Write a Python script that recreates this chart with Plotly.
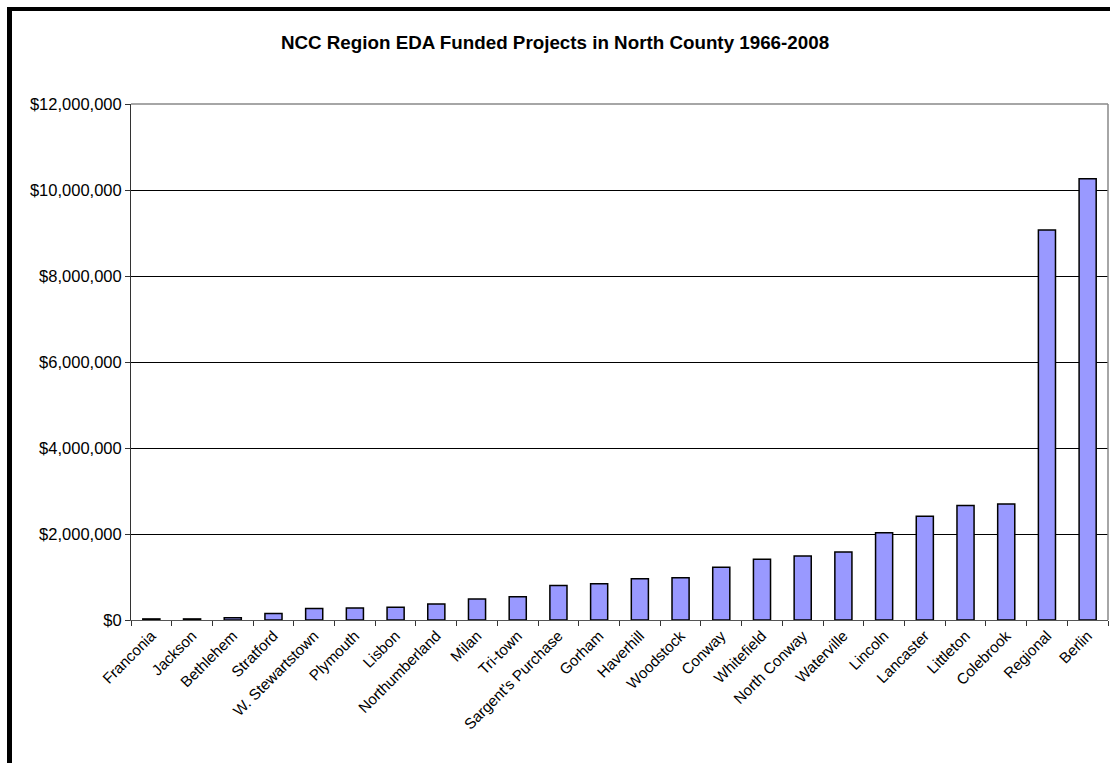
import plotly.graph_objects as go

categories = ["Franconia", "Jackson", "Bethlehem", "Stratford", "W. Stewartstown",
              "Plymouth", "Lisbon", "Northumberland", "Milan", "Tri-town",
              "Sargent's Purchase", "Gorham", "Haverhill", "Woodstock", "Conway",
              "Whitefield", "North Conway", "Waterville", "Lincoln", "Lancaster",
              "Littleton", "Colebrook", "Regional", "Berlin"]
funding = [25000, 25000, 55000, 150000, 270000,
           280000, 295000, 372000, 490000, 540000,
           800000, 845000, 960000, 985000, 1225000,
           1410000, 1490000, 1580000, 2030000, 2410000,
           2660000, 2700000, 9070000, 10260000]
y_ticks = [0, 2000000, 4000000, 6000000, 8000000, 10000000, 12000000]
y_tick_labels = ["$0", "$2,000,000", "$4,000,000", "$6,000,000", "$8,000,000",
                 "$10,000,000", "$12,000,000"]
title = "NCC Region EDA Funded Projects in North County 1966-2008"

W, H = 1110, 763
L, R, T, B = 131, 1108, 104, 620
FONT = "Liberation Sans, Arial, sans-serif"

fig = go.Figure(go.Bar(
    x=categories, y=funding,
    marker=dict(color="#9999FF", line=dict(color="#000000", width=1.5)),
))

def px_x(p):
    return (p - L) / (R - L)

def px_y(p):
    return (B - p) / (B - T)

fig.update_layout(
    width=W, height=H,
    margin=dict(l=L, r=W - R, t=T, b=H - B, pad=0),
    paper_bgcolor="white", plot_bgcolor="white",
    font=dict(family=FONT, size=15.5, color="black"),
    bargap=0.58,
    showlegend=False,
    title=dict(text="<b>" + title + "</b>", x=555 / W, xanchor="center",
               y=1 - 42 / H, yanchor="middle",
               font=dict(size=18.8, family=FONT)),
    xaxis=dict(
        tickangle=-45, tickson="boundaries", ticks="outside", ticklen=5,
        tickcolor="#333333", showline=True, linecolor="#555555", linewidth=1,
        showgrid=False, tickfont=dict(size=15.2), range=[-0.5, len(categories) - 0.5],
    ),
    yaxis=dict(
        range=[0, 12000000], tickvals=y_ticks, ticktext=y_tick_labels,
        ticks="outside", ticklen=5, tickcolor="#333333",
        showline=True, linecolor="#333333", linewidth=1,
        showgrid=True, gridcolor="#000000", gridwidth=1, zeroline=False,
        tickfont=dict(size=16.5),
    ),
    shapes=[
        # plot area grey border (top and right)
        dict(type="line", xref="paper", yref="paper", x0=0, x1=1, y0=1, y1=1,
             line=dict(color="#888888", width=1.5)),
        dict(type="line", xref="paper", yref="paper", x0=1, x1=1, y0=0, y1=1,
             line=dict(color="#888888", width=1.5)),
        # outer black frame (left and top)
        dict(type="line", xref="paper", yref="paper",
             x0=px_x(9.5), x1=px_x(9.5), y0=px_y(9), y1=px_y(H + 5),
             line=dict(color="black", width=5)),
        dict(type="line", xref="paper", yref="paper",
             x0=px_x(7), x1=px_x(W + 5), y0=px_y(9), y1=px_y(9),
             line=dict(color="black", width=4)),
    ],
)

fig.write_html(
    "out.html",
    config={"displayModeBar": False},
    post_script="document.body.style.margin='0';document.body.style.overflow='hidden';",
)
